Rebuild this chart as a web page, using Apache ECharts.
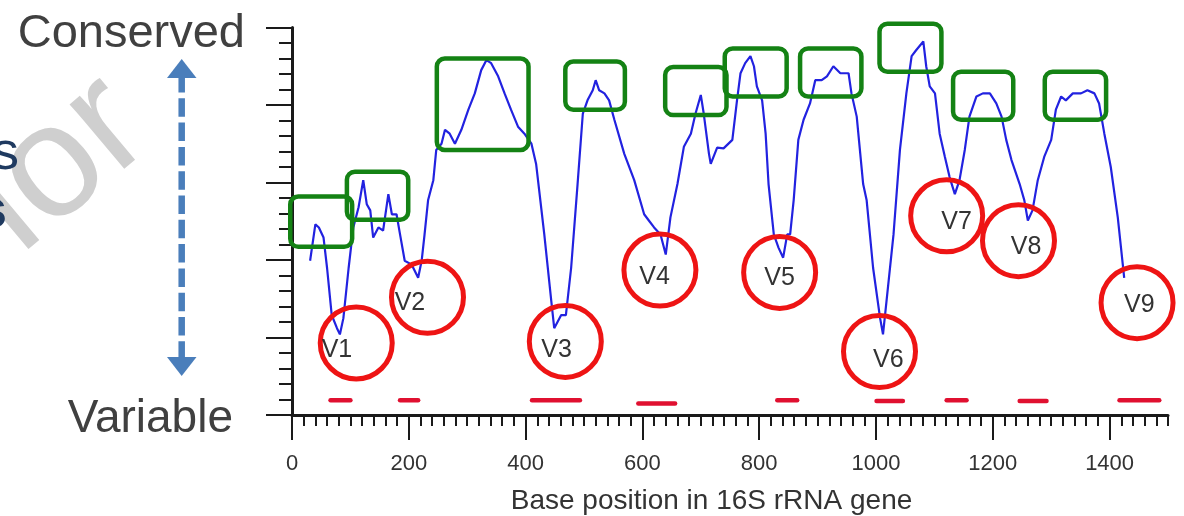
<!DOCTYPE html>
<html>
<head>
<meta charset="utf-8">
<title>16S rRNA variable regions</title>
<script src="https://cdn.jsdelivr.net/npm/echarts@6.0.0/dist/echarts.min.js"></script>
<style>
    html, body { margin: 0; padding: 0; background: #fff; }
    #main { width: 1184px; height: 516px; }
</style>
</head>
<body>
<div id="main"></div>
<script>
// conservation profile along the 16S gene
var positions = [31, 40, 46, 54, 60, 68, 77, 82, 88, 97,
    105, 114, 122, 128, 134, 139, 148, 156, 165, 171,
    179, 185, 193, 205, 216, 222, 227, 233, 242, 247,
    256, 262, 270, 279, 290, 302, 313, 324, 333, 341,
    353, 364, 375, 387, 398, 410, 418, 432, 444, 449,
    461, 469, 478, 489, 498, 506, 515, 520, 526, 535,
    543, 552, 569, 586, 603, 611, 620, 631, 640, 648,
    660, 671, 683, 691, 700, 705, 714, 717, 728, 739,
    754, 762, 768, 776, 785, 791, 796, 805, 811, 816,
    825, 833, 841, 848, 853, 859, 867, 876, 887, 896,
    907, 916, 927, 939, 953, 958, 967, 978, 984, 995,
    1007, 1012, 1018, 1030, 1041, 1052, 1061, 1069, 1081, 1086,
    1092, 1101, 1109, 1118, 1126, 1135, 1143, 1152, 1160, 1172,
    1183, 1195, 1206, 1215, 1223, 1232, 1246, 1254, 1260, 1268,
    1277, 1288, 1300, 1308, 1317, 1325, 1337, 1351, 1362, 1374,
    1382, 1391, 1402, 1414, 1425];
var conservation = [1.99, 2.46, 2.42, 2.29, 1.90, 1.29, 1.12, 1.04, 1.25, 1.90,
    2.42, 2.68, 3.03, 2.72, 2.64, 2.29, 2.42, 2.38, 2.85, 2.59,
    2.59, 2.33, 1.99, 1.94, 1.77, 1.99, 2.33, 2.77, 3.03, 3.42,
    3.50, 3.68, 3.63, 3.50, 3.68, 3.94, 4.15, 4.45, 4.58, 4.54,
    4.37, 4.15, 3.94, 3.72, 3.63, 3.50, 3.24, 2.33, 1.47, 1.12,
    1.29, 1.29, 1.90, 2.98, 3.89, 4.06, 4.19, 4.32, 4.19, 4.15,
    4.06, 3.81, 3.37, 3.03, 2.59, 2.51, 2.42, 2.33, 2.07, 2.55,
    2.98, 3.46, 3.63, 3.89, 4.13, 3.89, 3.37, 3.24, 3.45, 3.44,
    3.55, 4.06, 4.41, 4.54, 4.63, 4.50, 4.24, 4.06, 3.63, 2.98,
    2.33, 2.16, 2.03, 2.33, 2.33, 2.77, 3.55, 3.81, 4.02, 4.32,
    4.32, 4.37, 4.50, 4.41, 4.41, 4.15, 3.85, 2.98, 2.77, 1.90,
    1.25, 1.04, 1.47, 2.33, 3.42, 4.15, 4.63, 4.71, 4.82, 4.50,
    4.24, 4.15, 3.63, 3.33, 3.07, 2.85, 3.03, 3.42, 3.85, 4.11,
    4.15, 4.15, 4.02, 3.85, 3.55, 3.29, 2.98, 2.77, 2.51, 2.64,
    3.03, 3.33, 3.55, 3.94, 4.11, 4.06, 4.15, 4.15, 4.19, 4.15,
    4.02, 3.63, 3.20, 2.55, 1.77];

var xTicks = [0, 200, 400, 600, 800, 1000, 1200, 1400];

// variable regions: circle centre, label position
var regionNames = ['V1', 'V2', 'V3', 'V4', 'V5', 'V6', 'V7', 'V8', 'V9'];
var regionCircles = [[110, 0.93], [232, 1.52], [468, 0.95], [630, 1.87], [835, 1.84],
    [1006, 0.82], [1121, 2.57], [1244, 2.25], [1447, 1.45]];
var regionLabels = [[77, 0.84], [202, 1.44], [453, 0.84], [621, 1.78], [835, 1.76],
    [1021, 0.71], [1138, 2.49], [1257, 2.17], [1451, 1.42]];

// conserved stretches: [x0, y0, x1, y1]
var conservedBoxes = [[-3, 2.17, 103, 2.82], [94, 2.52, 199, 3.14], [248, 3.42, 405, 4.60],
    [468, 3.94, 570, 4.56], [639, 3.87, 744, 4.49], [741, 4.11, 847, 4.73],
    [870, 4.11, 975, 4.73], [1006, 4.43, 1112, 5.05], [1132, 3.81, 1235, 4.43],
    [1289, 3.81, 1394, 4.43]];

// red bars near the axis: [start, end, level]
var primerBars = [[66, 100, 0.19], [185, 216, 0.19], [411, 493, 0.19], [593, 656, 0.15],
    [831, 865, 0.19], [1001, 1046, 0.18], [1121, 1155, 0.19], [1246, 1292, 0.18],
    [1417, 1485, 0.19]];

var chart = echarts.init(document.getElementById('main'));
var font = 'Liberation Sans, Arial, sans-serif';

var lineData = positions.map(function (p, i) { return [p, conservation[i]]; });
var circleData = regionCircles.map(function (c, i) {
    return [c[0], c[1], regionLabels[i][0], regionLabels[i][1]];
});

var option = {
    backgroundColor: '#fff',
    animation: false,
    grid: { left: 292, right: 16, top: 27.5, bottom: 101, containLabel: false, outerBoundsMode: 'none' },
    xAxis: [{
        type: 'value',
        min: 0,
        max: 1500,
        interval: 200,
        splitLine: { show: false },
        axisLine: { lineStyle: { color: '#1a1a1a', width: 3 } },
        axisTick: { length: 25, customValues: xTicks, lineStyle: { color: '#1a1a1a', width: 2 } },
        axisLabel: {
            customValues: xTicks,
            margin: 38,
            fontSize: 22,
            fontFamily: font,
            color: '#333',
            formatter: function (v) { return v === 1500 ? '' : v; }
        },
        name: 'Base position in 16S rRNA gene',
        nameLocation: 'middle',
        nameGap: 72,
        nameTextStyle: { fontSize: 28, fontFamily: font, color: '#333', padding: [0, 37, 0, 0] }
    }, {
        // minor ticks every 20 bases
        type: 'value',
        min: 0,
        max: 1500,
        interval: 20,
        position: 'bottom',
        splitLine: { show: false },
        axisLine: { show: false },
        axisLabel: { show: false },
        axisTick: { length: 11, lineStyle: { color: '#1a1a1a', width: 2 } }
    }],
    yAxis: {
        type: 'value',
        min: 0,
        max: 5,
        interval: 1,
        splitLine: { show: false },
        axisLabel: { show: false },
        axisLine: { lineStyle: { color: '#1a1a1a', width: 3 } },
        axisTick: { length: 26, lineStyle: { color: '#1a1a1a', width: 2 } },
        minorTick: { show: true, splitNumber: 5, length: 13, lineStyle: { color: '#1a1a1a', width: 2 } }
    },
    series: [{
        type: 'line',
        data: lineData,
        symbol: 'none',
        lineStyle: { color: '#2222e0', width: 2.2 },
        z: 2
    }, {
        type: 'custom',
        data: primerBars,
        clip: false,
        z: 3,
        renderItem: function (params, api) {
            var a = api.coord([api.value(0), api.value(2)]);
            var b = api.coord([api.value(1), api.value(2)]);
            return {
                type: 'line',
                shape: { x1: a[0], y1: a[1], x2: b[0], y2: b[1] },
                style: { stroke: '#e01030', lineWidth: 4.5, lineCap: 'round' }
            };
        }
    }, {
        type: 'custom',
        data: conservedBoxes,
        clip: false,
        z: 4,
        renderItem: function (params, api) {
            var p0 = api.coord([api.value(0), api.value(3)]);
            var p1 = api.coord([api.value(2), api.value(1)]);
            return {
                type: 'rect',
                shape: { x: p0[0], y: p0[1], width: p1[0] - p0[0], height: p1[1] - p0[1], r: 8 },
                style: { fill: 'none', stroke: '#148214', lineWidth: 4.5 }
            };
        }
    }, {
        type: 'custom',
        data: circleData,
        clip: false,
        z: 5,
        renderItem: function (params, api) {
            var c = api.coord([api.value(0), api.value(1)]);
            var t = api.coord([api.value(2), api.value(3)]);
            return {
                type: 'group',
                children: [{
                    type: 'circle',
                    shape: { cx: c[0], cy: c[1], r: 36 },
                    style: { fill: 'none', stroke: '#ee1414', lineWidth: 5 }
                }, {
                    type: 'text',
                    x: t[0],
                    y: t[1],
                    style: {
                        text: regionNames[params.dataIndex],
                        fill: '#333',
                        font: '25px ' + font,
                        align: 'center',
                        verticalAlign: 'middle'
                    }
                }]
            };
        }
    }],
    graphic: [{
        type: 'text',
        x: 60, y: 165,
        rotation: 0.698,
        style: { text: 'ior', fill: '#cfcfcf', font: '160px ' + font, align: 'center', verticalAlign: 'middle' }
    }, {
        type: 'text',
        x: 19, y: 154,
        style: { text: 's', fill: '#1f3a60', font: '54px ' + font, align: 'right', verticalAlign: 'middle' }
    }, {
        type: 'text',
        x: 7, y: 212,
        style: { text: 's', fill: '#1f3a60', font: 'bold 54px ' + font, align: 'right', verticalAlign: 'middle' }
    }, {
        type: 'text',
        x: 245, y: 34,
        style: { text: 'Conserved', fill: '#404040', font: '47px ' + font, align: 'right', verticalAlign: 'middle' }
    }, {
        type: 'text',
        x: 233, y: 419,
        style: { text: 'Variable', fill: '#404040', font: '46px ' + font, align: 'right', verticalAlign: 'middle' }
    }, {
        type: 'line',
        shape: { x1: 181.7, y1: 74, x2: 181.7, y2: 360 },
        style: { stroke: '#4a7ebb', lineWidth: 6.5, lineDash: [18.5, 5.8] }
    }, {
        type: 'polygon',
        shape: { points: [[181.7, 59], [167, 78], [196.5, 78]] },
        style: { fill: '#4a7ebb' }
    }, {
        type: 'polygon',
        shape: { points: [[181.7, 376], [167, 357], [196.5, 357]] },
        style: { fill: '#4a7ebb' }
    }]
};

chart.setOption(option);
</script>
</body>
</html>
